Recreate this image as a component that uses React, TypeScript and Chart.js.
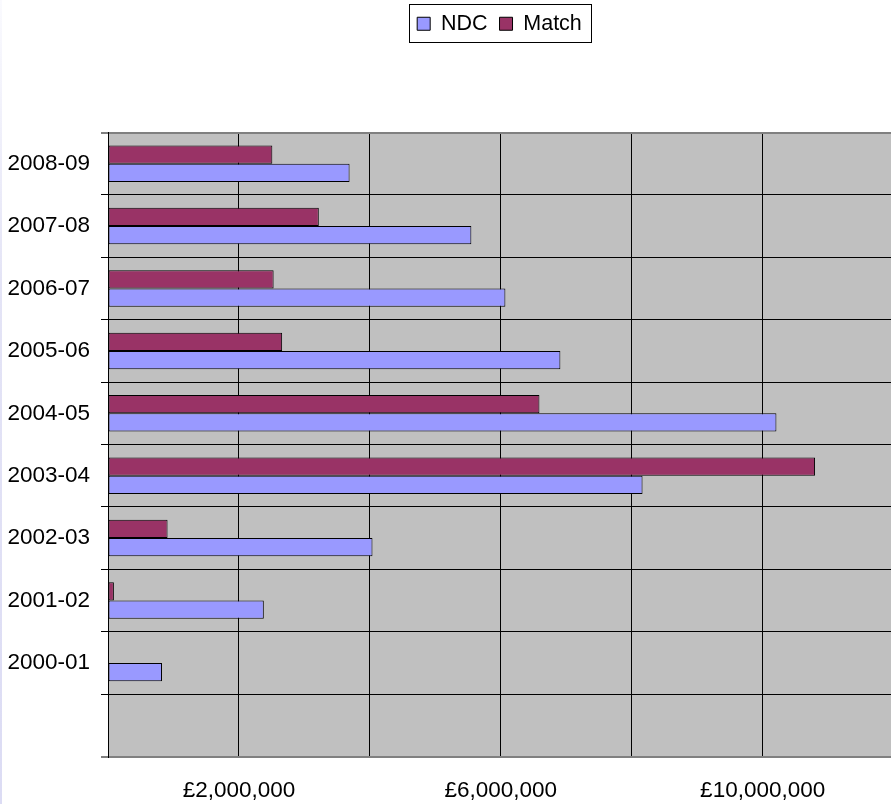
import React, { useEffect, useRef } from "react";
import { Chart, registerables } from "chart.js";

Chart.register(...registerables);

// ---- data ----
const categories = [
  "2008-09",
  "2007-08",
  "2006-07",
  "2005-06",
  "2004-05",
  "2003-04",
  "2002-03",
  "2001-02",
  "2000-01",
  "",
];
const ndcValues = [3690000, 5550000, 6070000, 6910000, 10210000, 8165000, 4040000, 2380000, 825000, null];
const matchValues = [2510000, 3220000, 2530000, 2660000, 6590000, 10800000, 910000, 90000, null, null];
const seriesNames = ["NDC", "Match"];
const gridTickValues = [0, 2000000, 4000000, 6000000, 8000000, 10000000];
const labelledTickValues = [2000000, 6000000, 10000000];
const labelledTickTexts = ["£2,000,000", "£6,000,000", "£10,000,000"];
const axisMax = 11960000;

const FONT = "'Liberation Sans', Arial, Helvetica, sans-serif";
const W = 891;
const H = 804;

const plotBackground = {
  id: "plotBackground",
  beforeDraw(chart: any) {
    const { ctx, chartArea } = chart;
    if (!chartArea) return;
    ctx.save();
    ctx.fillStyle = "#C0C0C0";
    ctx.fillRect(chartArea.left, chartArea.top, chartArea.right - chartArea.left, chartArea.bottom - chartArea.top);
    ctx.restore();
  },
};

const legendSpacer = {
  id: "legendSpacer",
  beforeLayout(chart: any) {
    const lg: any = chart.legend;
    if (lg && !lg.__spaced) {
      const fit = lg.fit.bind(lg);
      lg.fit = () => {
        fit();
        lg.height = 131.5;
      };
      lg.__spaced = true;
    }
  },
};

const legendFrame = {
  id: "legendFrame",
  afterDraw(chart: any) {
    const lg: any = chart.legend;
    const hb = lg && lg.legendHitBoxes;
    if (!hb || !hb.length) return;
    const left = Math.min(...hb.map((h: any) => h.left)) - 8;
    const right = Math.max(...hb.map((h: any) => h.left + h.width)) + 9;
    const top = hb[0].top - 9;
    const bottom = hb[0].top + hb[0].height + 7;
    const { ctx } = chart;
    ctx.save();
    ctx.strokeStyle = "#000";
    ctx.lineWidth = 1;
    ctx.strokeRect(Math.round(left) + 0.5, Math.round(top) + 0.5, Math.round(right - left), Math.round(bottom - top));
    ctx.restore();
  },
};

export default function App() {
  const ref = useRef<HTMLCanvasElement | null>(null);

  useEffect(() => {
    if (!ref.current) return;
    const chart = new Chart(ref.current, {
      type: "bar",
      data: {
        labels: categories,
        datasets: [
          {
            label: seriesNames[1],
            data: matchValues,
            backgroundColor: "#993366",
            borderColor: "#000000",
            borderWidth: 1,
            borderSkipped: false,
          },
          {
            label: seriesNames[0],
            data: ndcValues,
            backgroundColor: "#9999FF",
            borderColor: "#000000",
            borderWidth: 1,
            borderSkipped: false,
          },
        ],
      },
      options: {
        indexAxis: "y",
        responsive: false,
        animation: false,
        devicePixelRatio: 1,
        layout: { padding: { top: 1, left: 0, right: 0, bottom: 0 } },
        datasets: {
          bar: { barPercentage: 1, categoryPercentage: 0.585 },
        },
        plugins: {
          tooltip: { enabled: false },
          title: { display: false },
          legend: {
            display: true,
            position: "top",
            fullSize: false,
            reverse: true,
            labels: {
              color: "#000",
              font: { family: FONT, size: 21.5 },
              boxWidth: 13,
              boxHeight: 13,
              padding: 12,
            },
          },
        },
        scales: {
          x: {
            type: "linear",
            position: "bottom",
            bounds: "data",
            min: 0,
            max: axisMax,
            afterBuildTicks: (scale: any) => {
              scale.ticks = gridTickValues.map((v) => ({ value: v }));
            },
            afterFit: (scale: any) => {
              scale.height = 47.5;
            },
            border: { display: false },
            grid: {
              color: "#000",
              lineWidth: 1,
              drawTicks: true,
              tickLength: 21,
              tickColor: "rgba(0,0,0,0)",
            },
            ticks: {
              autoSkip: false,
              maxRotation: 0,
              minRotation: 0,
              padding: 0,
              color: "#000",
              font: { family: FONT, size: 22.5 },
              callback: (v: any) => {
                const n = Number(v);
                const i = labelledTickValues.findIndex((t) => Math.abs(t - n) < 1);
                return i >= 0 ? labelledTickTexts[i] : "";
              },
            },
          },
          y: {
            type: "category",
            position: "left",
            afterFit: (scale: any) => {
              scale.width = 108;
            },
            border: { display: true, color: "#000", width: 1 },
            grid: {
              offset: true,
              color: (c: any) => (c.type === "scale" || c.index === 0 ? "#808080" : "#000"),
              lineWidth: (c: any) => (c.type === "scale" || c.index === 0 ? 2 : 1),
              drawTicks: true,
              tickLength: 7,
              tickColor: "#000",
              tickWidth: 1,
            },
            ticks: {
              autoSkip: false,
              padding: 11,
              color: "#000",
              font: { family: FONT, size: 22.5 },
            },
          },
        },
      },
      plugins: [plotBackground, legendSpacer, legendFrame],
    });
    return () => chart.destroy();
  }, []);

  return (
    <div style={{ position: "absolute", left: 0, top: 0, width: W, height: H, background: "#fff" }}>
      <canvas ref={ref} width={W} height={H} style={{ display: "block", width: W, height: H }} />
      <div
        style={{
          position: "absolute",
          left: 0,
          top: 0,
          width: 2,
          height: H,
          background: "linear-gradient(to bottom, #fafafe 0%, #e4e4f6 35%, #dcdcf4 100%)",
        }}
      />
    </div>
  );
}
